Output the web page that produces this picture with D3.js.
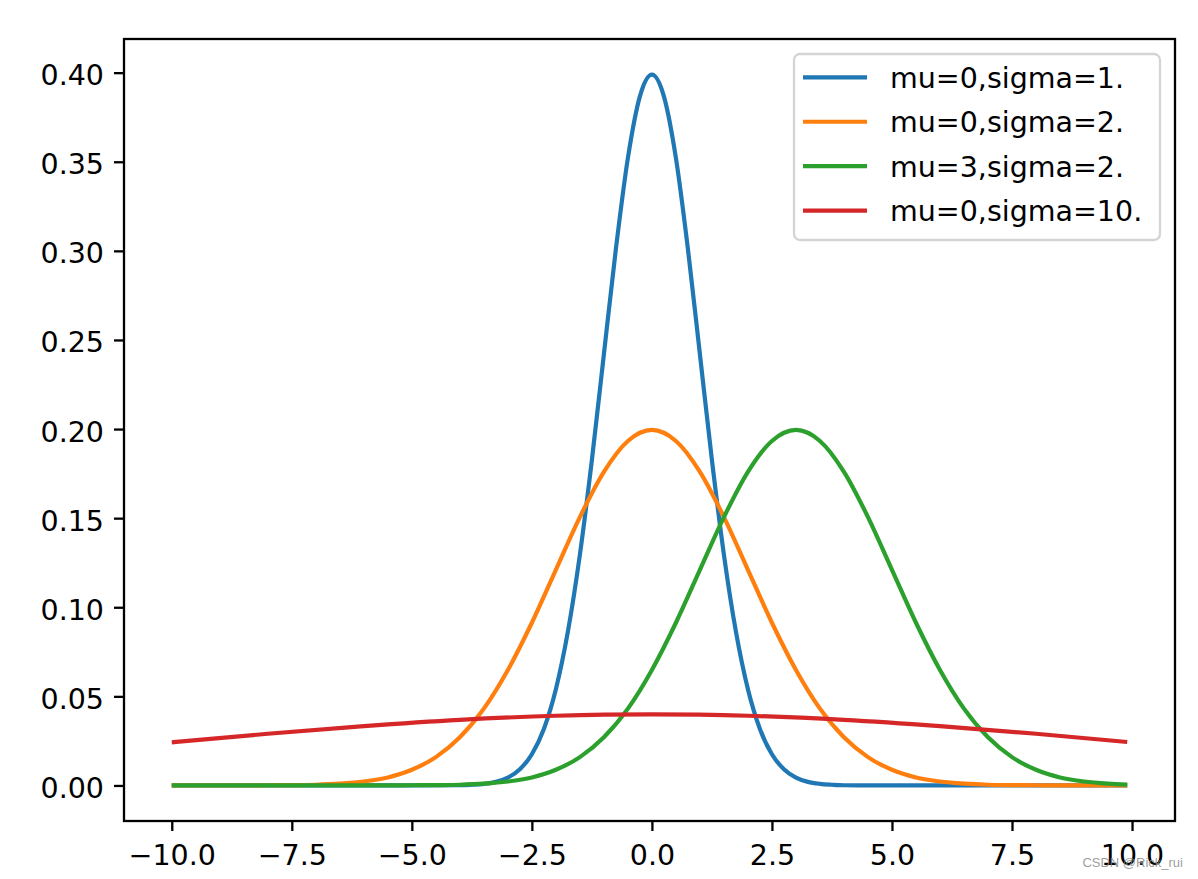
<!doctype html>
<html>
<head>
<meta charset="utf-8">
<title>normal pdf</title>
<style>
  html, body { margin: 0; padding: 0; background: #fff; }
  svg { display: block; }
</style>
<script src="https://cdnjs.cloudflare.com/ajax/libs/d3/7.8.5/d3.min.js"></script>
</head>
<body>
<script>
// values
var seriesNames = ["mu=0,sigma=1.", "mu=0,sigma=2.", "mu=3,sigma=2.", "mu=0,sigma=10."];
var colors = ["#1f77b4", "#ff7f0e", "#2ca02c", "#d62728"];

var xBlue = [-10, -5, -4, -3.75, -3.5, -3.25, -3, -2.75, -2.5, -2.25, -2, -1.75, -1.5, -1.25, -1, -0.75, -0.5, -0.25,
             0, 0.25, 0.5, 0.75, 1, 1.25, 1.5, 1.75, 2, 2.25, 2.5, 2.75, 3, 3.25, 3.5, 3.75, 4, 5, 9.9];
var yBlue = [0, 0, 0.0001, 0.0004, 0.0009, 0.002, 0.0044, 0.0091, 0.0175, 0.0317, 0.054, 0.0863, 0.1295, 0.1826, 0.242, 0.3011, 0.3521, 0.3867,
             0.3989, 0.3867, 0.3521, 0.3011, 0.242, 0.1826, 0.1295, 0.0863, 0.054, 0.0317, 0.0175, 0.0091, 0.0044, 0.002, 0.0009, 0.0004, 0.0001, 0, 0];

var xHalf = [-10, -9.5, -9, -8.5, -8, -7.5, -7, -6.5, -6, -5.5, -5, -4.5, -4, -3.5, -3, -2.5, -2, -1.5, -1, -0.5,
             0, 0.5, 1, 1.5, 2, 2.5, 3, 3.5, 4, 4.5, 5, 5.5, 6, 6.5, 7, 7.5, 8, 8.5, 9, 9.5, 9.9];
var yOrange = [0, 0, 0, 0, 0.0001, 0.0002, 0.0004, 0.001, 0.0022, 0.0045, 0.0088, 0.0159, 0.027, 0.0431, 0.0648, 0.0913, 0.121, 0.1506, 0.176, 0.1933,
               0.1995, 0.1933, 0.176, 0.1506, 0.121, 0.0913, 0.0648, 0.0431, 0.027, 0.0159, 0.0088, 0.0045, 0.0022, 0.001, 0.0004, 0.0002, 0.0001, 0, 0, 0, 0];
var yGreen = [0, 0, 0, 0, 0, 0, 0, 0, 0, 0, 0.0001, 0.0002, 0.0004, 0.001, 0.0022, 0.0045, 0.0088, 0.0159, 0.027, 0.0431,
              0.0648, 0.0913, 0.121, 0.1506, 0.176, 0.1933, 0.1995, 0.1933, 0.176, 0.1506, 0.121, 0.0913, 0.0648, 0.0431, 0.027, 0.0159, 0.0088, 0.0045, 0.0022, 0.001, 0.0005];

var xRed = [-10, -8, -6, -4, -2, 0, 2, 4, 6, 8, 9.9];
var yRed = [0.0242, 0.029, 0.0333, 0.0368, 0.0391, 0.0399, 0.0391, 0.0368, 0.0333, 0.029, 0.0244];

var xTicks = [-10, -7.5, -5, -2.5, 0, 2.5, 5, 7.5, 10];
var yTicks = [0, 0.05, 0.1, 0.15, 0.2, 0.25, 0.3, 0.35, 0.4];

var width = 1198, height = 879;
var plotLeft = 124, plotRight = 1175, plotTop = 39, plotBottom = 821;
var font = "'DejaVu Sans', sans-serif";

var svg = d3.select("body").append("svg")
    .attr("width", width)
    .attr("height", height);

var x = d3.scaleLinear().domain([-10.995, 10.895]).range([plotLeft, plotRight]);
var y = d3.scaleLinear().domain([-0.01995, 0.41889]).range([plotBottom, plotTop]);

function zipped(xs, ys) {
    return xs.map(function (v, i) { return [v, ys[i]]; });
}
var series = [zipped(xBlue, yBlue), zipped(xHalf, yOrange), zipped(xHalf, yGreen), zipped(xRed, yRed)];

var line = d3.line()
    .x(function (d) { return x(d[0]); })
    .y(function (d) { return y(d[1]); })
    .curve(d3.curveMonotoneX);

svg.selectAll(".curve")
    .data(series)
    .enter().append("path")
    .attr("class", "curve")
    .attr("d", line)
    .attr("fill", "none")
    .attr("stroke", function (d, i) { return colors[i]; })
    .attr("stroke-width", 4.2)
    .attr("stroke-linejoin", "round")
    .attr("stroke-linecap", "butt");

// axes
var gx = svg.append("g")
    .attr("transform", "translate(0," + plotBottom + ")")
    .call(d3.axisBottom(x).tickValues(xTicks).tickSize(10)
        .tickFormat(function (d) { return d3.format(".1f")(d).replace("-", "\u2212"); }));
gx.select(".domain").remove();
gx.selectAll("line").attr("stroke", "#000").attr("stroke-width", 2.3);
gx.selectAll("text")
    .attr("y", 44).attr("dy", null)
    .attr("font-family", font).attr("font-size", 28.5).attr("fill", "#000");

var gy = svg.append("g")
    .attr("transform", "translate(" + plotLeft + ",0)")
    .call(d3.axisLeft(y).tickValues(yTicks).tickSize(10).tickPadding(10)
        .tickFormat(d3.format(".2f")));
gy.select(".domain").remove();
gy.selectAll("line").attr("stroke", "#000").attr("stroke-width", 2.3);
gy.selectAll("text")
    .attr("dy", 12)
    .attr("font-family", font).attr("font-size", 28.5).attr("fill", "#000");

// frame
svg.append("rect")
    .attr("x", plotLeft).attr("y", plotTop)
    .attr("width", plotRight - plotLeft).attr("height", plotBottom - plotTop)
    .attr("fill", "none")
    .attr("stroke", "#000")
    .attr("stroke-width", 2.3);

// legend
var legend = svg.append("g").attr("transform", "translate(794,54)");
legend.append("rect")
    .attr("width", 366).attr("height", 186)
    .attr("rx", 6).attr("ry", 6)
    .attr("fill", "#fff").attr("fill-opacity", 0.8)
    .attr("stroke", "#d4d4d4").attr("stroke-width", 2.3);

var rows = legend.selectAll(".row")
    .data(seriesNames)
    .enter().append("g")
    .attr("class", "row")
    .attr("transform", function (d, i) { return "translate(0," + (23.3 + i * 44.45) + ")"; });
rows.append("line")
    .attr("x1", 9).attr("x2", 73)
    .attr("stroke", function (d, i) { return colors[i]; })
    .attr("stroke-width", 4.2);
rows.append("text")
    .attr("x", 96).attr("y", 10.5)
    .attr("font-family", font).attr("font-size", 28.5).attr("fill", "#000")
    .text(function (d) { return d; });

// watermark
svg.append("text")
    .attr("x", 1183).attr("y", 867)
    .attr("text-anchor", "end")
    .attr("font-family", "'Liberation Sans', Arial, sans-serif")
    .attr("font-size", 13)
    .attr("fill", "#8a8a8a")
    .attr("fill-opacity", 0.85)
    .text("CSDN @Rick_rui");
</script>
</body>
</html>
